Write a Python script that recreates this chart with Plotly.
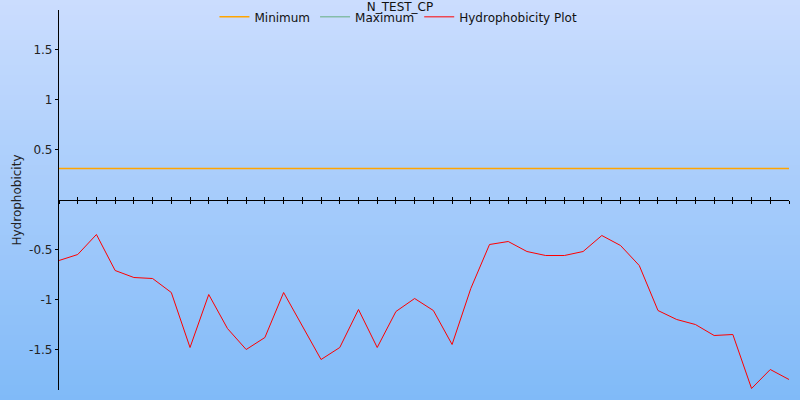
import plotly.graph_objects as go

positions = list(range(40))
hydrophobicity = [-0.61, -0.55, -0.35, -0.71, -0.78, -0.79, -0.93, -1.48, -0.95, -1.29,
                  -1.50, -1.38, -0.93, -1.26, -1.60, -1.48, -1.10, -1.48, -1.12, -0.99,
                  -1.11, -1.45, -0.89, -0.45, -0.42, -0.52, -0.56, -0.56, -0.52, -0.36,
                  -0.46, -0.66, -1.11, -1.20, -1.25, -1.36, -1.35, -1.89, -1.70, -1.80]
minimum_value = 0.31
maximum_value = 0.31
minimum = [minimum_value] * len(positions)
maximum = [maximum_value] * len(positions)
y_tick_vals = [-1.5, -1, -0.5, 0.5, 1, 1.5]
y_tick_text = ["-1.5", "-1", "-0.5", "0.5", "1", "1.5"]
title_text = "N_TEST_CP"

FONT = "DejaVu Sans, Verdana, sans-serif"

fig = go.Figure()
fig.add_trace(go.Scatter(x=positions, y=maximum, mode="lines", name="Maximum",
                         line=dict(color="#008000", width=0.5), legendrank=2))
fig.add_trace(go.Scatter(x=positions, y=minimum, mode="lines", name="Minimum",
                         line=dict(color="#ffa500", width=1.5), legendrank=1))
fig.add_trace(go.Scatter(x=positions, y=hydrophobicity, mode="lines", name="Hydrophobicity Plot",
                         line=dict(color="#ff0000", width=1), legendrank=3))
# overlay axis to get ticks crossing the x axis line
fig.add_trace(go.Scatter(x=positions, y=hydrophobicity, xaxis="x2", mode="lines",
                         line=dict(width=0), showlegend=False, hoverinfo="skip"))

# vertical background gradient
top = (203, 221, 254)
bottom = (128, 186, 248)
n = 80
shapes = []
fig_h = 400.0
t_m, b_m = 10, 10
plot_h = fig_h - t_m - b_m
for i in range(n):
    py0 = i * fig_h / n
    py1 = (i + 1) * fig_h / n + 0.5
    f = (i + 0.5) / n
    c = tuple(round(top[k] + (bottom[k] - top[k]) * f) for k in range(3))
    y0 = (fig_h - b_m - py1) / plot_h
    y1 = (fig_h - b_m - py0) / plot_h
    shapes.append(dict(type="rect", xref="paper", yref="paper", x0=-0.2, x1=1.2,
                       y0=y0, y1=y1, fillcolor="rgb(%d,%d,%d)" % c,
                       line=dict(width=0), layer="below"))

fig.update_layout(
    width=800, height=400,
    margin=dict(l=59, r=11, t=t_m, b=b_m, autoexpand=False),
    paper_bgcolor="rgb(166,204,252)",
    plot_bgcolor="rgba(0,0,0,0)",
    font=dict(family=FONT, size=12, color="#222222"),
    shapes=shapes,
    title=dict(text=title_text, x=0.5, xref="container", xanchor="center",
               y=0.982, yanchor="middle", automargin=False,
               font=dict(size=12, family=FONT, color="#111111")),
    showlegend=True,
    legend=dict(orientation="h", x=0.465, xanchor="center", y=0.982, yanchor="middle",
                bgcolor="rgba(0,0,0,0)", font=dict(size=12, family=FONT, color="#111111"),
                itemwidth=30, tracegroupgap=0),
    xaxis=dict(range=[0, 39], anchor="free", position=0.5, showgrid=False, zeroline=False,
               showline=True, linecolor="black", linewidth=1.2, automargin=False,
               tickmode="linear", tick0=0, dtick=1, ticks="outside", ticklen=3,
               tickcolor="black", tickwidth=1, showticklabels=False),
    xaxis2=dict(range=[0, 39], overlaying="x", anchor="free", position=0.5, side="bottom",
                showgrid=False, zeroline=False, showline=False, automargin=False,
                tickmode="linear", tick0=0, dtick=1, ticks="inside", ticklen=3,
                tickcolor="black", tickwidth=1, showticklabels=False),
    yaxis=dict(range=[-1.905, 1.895], showgrid=False, zeroline=False, automargin=False,
               showline=True, linecolor="black", linewidth=1.2,
               tickvals=y_tick_vals, ticktext=y_tick_text, ticks="outside", ticklen=3,
               tickcolor="black", tickwidth=1,
               title=dict(text="Hydrophobicity", standoff=4, font=dict(size=12, family=FONT))),
)

fig.write_html("out.html", config={"displayModeBar": False},
               post_script="document.body.style.margin='0';document.body.style.overflow='hidden';")
